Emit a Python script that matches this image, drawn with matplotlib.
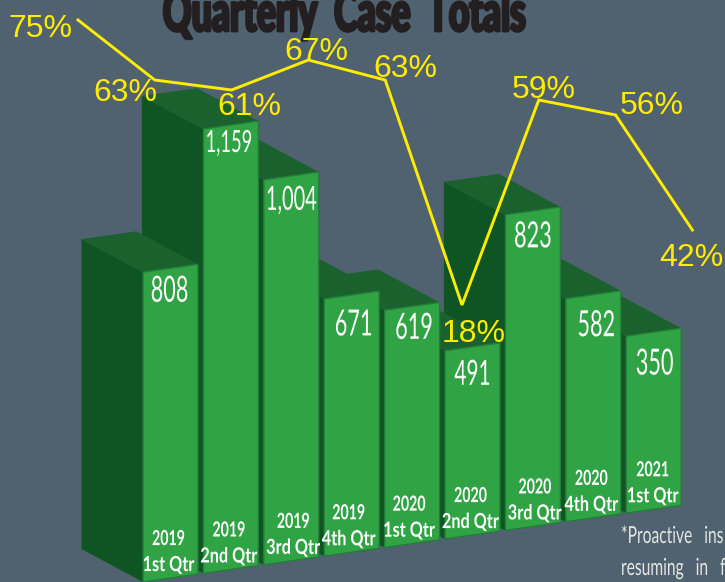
import matplotlib
matplotlib.use('Agg')
import matplotlib.pyplot as plt
import matplotlib.patheffects as pe
from matplotlib.patches import Polygon
from matplotlib.transforms import Affine2D

## Data
years = ['2019', '2019', '2019', '2019', '2020', '2020', '2020', '2020', '2021']
quarters = ['1st Qtr', '2nd Qtr', '3rd Qtr', '4th Qtr', '1st Qtr', '2nd Qtr', '3rd Qtr', '4th Qtr', '1st Qtr']
case_labels = ['808', '1,159', '1,004', '671', '619', '491', '823', '582', '350']
# heights as drawn: the last bar stands taller than its 350 label in the picture
case_heights = [808, 1159, 1004, 671, 619, 491, 823, 582, 462]
pct_labels = ['75%', '63%', '61%', '67%', '63%', '18%', '59%', '56%', '42%']
# same for the line, the last point sits below its 42% label
pct_heights = [75, 63, 61, 67, 63, 18, 59, 56, 33]

## Scales, in pixels of the 725x582 picture
bar_x0, bar_step, bar_w = 143, 60.4, 55
base_y0, base_rise = 582, 8.6
px_per_case = 0.3835
depth_x, depth_y = -61.5, -33
line_x0, line_step = 78, 76.8
line_y0, px_per_pct = 395, 5

bg = '#506170'
front = '#30a344'
edge = '#237c3a'
side = '#0f5423'
top = '#1b612e'
yellow = '#ffed00'
font = 'Lato'


class Squeeze(pe.AbstractPathEffect):
    # no condensed font is installed, so narrow the real text about x = cx
    def __init__(self, sx, cx, stroke=0):
        self.sx, self.cx, self.stroke = sx, cx, stroke

    def draw_path(self, renderer, gc, tpath, affine, rgbFace=None):
        aff = affine + Affine2D().translate(-self.cx, 0).scale(self.sx, 1).translate(self.cx, 0)
        gc0 = renderer.new_gc()
        gc0.copy_properties(gc)
        if self.stroke:
            gc0.set_linewidth(self.stroke)
            gc0.set_foreground(rgbFace)
        renderer.draw_path(gc0, tpath, aff, rgbFace)
        gc0.restore()


fig = plt.figure(figsize=(7.25, 5.82), dpi=100, facecolor=bg)
ax = fig.add_axes([0, 0, 1, 1])
ax.set_xlim(0, 725)
ax.set_ylim(582, 0)
ax.axis('off')


def base_y(x):
    return base_y0 - (x - bar_x0) * base_rise / bar_step


# nudges for the number labels and the quarter labels
num_dx = [-1, -2, 0, 2, 2, 0, 0, 3, 1]
num_dy = [23, 18, 25, 30, 22, 28, 26, 31, 32]
num_size = [26, 22, 24, 26, 26, 25, 26, 26, 26]
cat_dx = [-2, -2, 2, -3, -3, -2, 2, -2, -1]

## Bars, right to left so nearer ones cover the side of the next
for i in range(len(case_heights) - 1, -1, -1):
    x1 = bar_x0 + i * bar_step
    x2 = x1 + bar_w
    h = case_heights[i] * px_per_case
    b1, b2 = base_y(x1), base_y(x2)
    t1, t2 = b1 - h, b2 - h
    ax.add_patch(Polygon([(x1, b1), (x1, t1), (x1 + depth_x, t1 + depth_y), (x1 + depth_x, b1 + depth_y)],
                         fc=side, ec='none', zorder=2))
    ax.add_patch(Polygon([(x1, t1), (x2, t2), (x2 + depth_x, t2 + depth_y), (x1 + depth_x, t1 + depth_y)],
                         fc=top, ec='none', zorder=2))
    ax.add_patch(Polygon([(x1, b1), (x1, t1), (x2, t2), (x2, b2)],
                         fc=front, ec=edge, lw=1, zorder=2))
    cx = (x1 + x2) / 2
    nx = cx + num_dx[i]
    ax.text(nx, (t1 + t2) / 2 + num_dy[i], case_labels[i], color='white', fontsize=num_size[i],
            family=font, ha='center', va='center', zorder=4, path_effects=[Squeeze(0.6, nx)])
    cy = base_y(cx)
    qx = cx + cat_dx[i]
    ax.text(qx, cy - 39, years[i], color='white', fontsize=15, family=font,
            fontweight='bold', ha='center', va='center', zorder=4, path_effects=[Squeeze(0.68, qx)])
    ax.text(qx, cy - 13, quarters[i], color='white', fontsize=15, family=font,
            fontweight='bold', ha='center', va='center', zorder=4, path_effects=[Squeeze(0.78, qx)])

## Line
line_x = [line_x0 + i * line_step for i in range(len(pct_heights))]
line_y = [line_y0 - p * px_per_pct for p in pct_heights]
ax.plot(line_x, line_y, color=yellow, lw=2.1, zorder=3, solid_joinstyle='miter')

# label offset from each point
pct_dx = [-38, -29, 18, 8, 20, 12, 5, 36, -1]
pct_dy = [9, 13, 17, -8, -11, 29, -10, -9, 28]
for i in range(len(pct_labels)):
    ax.text(line_x[i] + pct_dx[i], line_y[i] + pct_dy[i], pct_labels[i], color=yellow,
            fontsize=23, family='Liberation Sans', ha='center', va='center', zorder=5)

## Title and note, both cut by the picture edge as in the original
ax.text(344, 31, 'Quarterly  Case  Totals', color='#231f20', fontsize=40, family=font,
        fontweight='black', ha='center', va='baseline', zorder=1,
        path_effects=[Squeeze(0.64, 344, stroke=2)])
ax.text(621, 543, '*Proactive   ins', color='#e3e8e2', fontsize=17, family=font,
        ha='left', va='baseline', zorder=5, path_effects=[Squeeze(0.66, 621)])
ax.text(621, 575, 'resuming   in   f', color='#e3e8e2', fontsize=17, family=font,
        ha='left', va='baseline', zorder=5, path_effects=[Squeeze(0.66, 621)])

fig.savefig('out.png', dpi=100, facecolor=bg)
